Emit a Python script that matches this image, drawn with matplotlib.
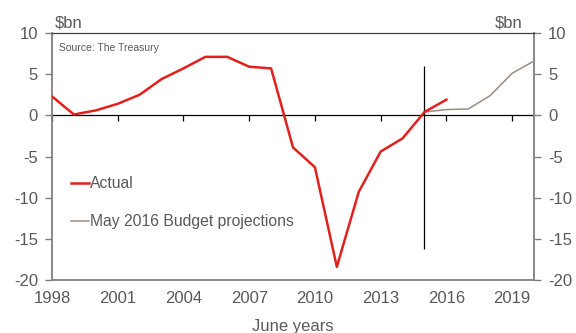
import matplotlib
matplotlib.use("Agg")
import matplotlib.pyplot as plt

plt.rcParams['font.family'] = ['Liberation Sans', 'DejaVu Sans']
plt.rcParams['axes.unicode_minus'] = False

# underlying cash balance, $bn, June years
years_actual = [1998, 1999, 2000, 2001, 2002, 2003, 2004, 2005, 2006, 2007,
                2008, 2009, 2010, 2011, 2012, 2013, 2014, 2015, 2016]
actual = [2.3, 0.1, 0.6, 1.4, 2.5, 4.4, 5.7, 7.1, 7.1, 5.9,
          5.7, -3.9, -6.3, -18.4, -9.3, -4.4, -2.8, 0.4, 1.9]

years_proj = [2015, 2016, 2017, 2018, 2019, 2020]
projection = [0.4, 0.7, 0.77, 2.4, 5.1, 6.6]

budget_year = 2015
budget_span = (-16.2, 6.0)

xticks = [1998, 2001, 2004, 2007, 2010, 2013, 2016, 2019]
yticks = [-20, -15, -10, -5, 0, 5, 10]

red = '#e2201c'
brown = '#9c8c82'
grey_text = '#595959'
spine_grey = '#808080'

fig = plt.figure(figsize=(5.76, 3.33), dpi=100)
ax = fig.add_axes([0.0903, 0.159, 0.8368, 0.742])

ax.plot(years_proj, projection, color=brown, lw=1.1, label='May 2016 Budget projections', zorder=3)
ax.plot(years_actual, actual, color=red, lw=1.8, label='Actual', zorder=4)
ax.vlines(budget_year, *budget_span, color='black', lw=0.9, zorder=2)
ax.axhline(0, color='black', lw=0.9, zorder=1)

ax.set_xlim(1998, 2020)
ax.set_ylim(-20, 10)
ax.set_xticks(xticks)
ax.set_yticks(yticks)

for side in ['left', 'right', 'bottom']:
    ax.spines[side].set_color(spine_grey)
    ax.spines[side].set_linewidth(1.3)
ax.spines['top'].set_color('#404040')
ax.spines['top'].set_linewidth(0.9)

ax.tick_params(axis='x', length=0, pad=8, labelsize=12, labelcolor=grey_text)
ax.tick_params(axis='y', direction='out', length=5, width=1, color=spine_grey, pad=5,
               labelsize=12, labelcolor=grey_text, right=True, labelright=True)

# year ticks hanging off the zero line
zero_ax = ax.secondary_xaxis(20 / 30)
zero_ax.set_xticks(xticks)
zero_ax.tick_params(axis='x', direction='in', length=4, width=0.9, color='black',
                    labeltop=False, labelbottom=False)
for sp in zero_ax.spines.values():
    sp.set_visible(False)

ax.text(0.006, 1.012, '$bn', transform=ax.transAxes, fontsize=12, color=grey_text,
        ha='left', va='bottom')
ax.text(0.977, 1.012, '$bn', transform=ax.transAxes, fontsize=12, color=grey_text,
        ha='right', va='bottom')
ax.text(0.0145, 0.939, 'Source: The Treasury', transform=ax.transAxes, fontsize=7.5,
        color=grey_text, ha='left', va='center')
ax.set_xlabel('June years', fontsize=12, color=grey_text, labelpad=9)

handles, labels = ax.get_legend_handles_labels()
leg = ax.legend(handles[::-1], labels[::-1], loc='upper left', bbox_to_anchor=(0.039, 0.42),
                frameon=False, fontsize=11.3, handlelength=1.15, handletextpad=0.1,
                labelspacing=1.45, borderpad=0, borderaxespad=0)
for t in leg.get_texts():
    t.set_color(grey_text)

fig.savefig('out.png', dpi=100)
